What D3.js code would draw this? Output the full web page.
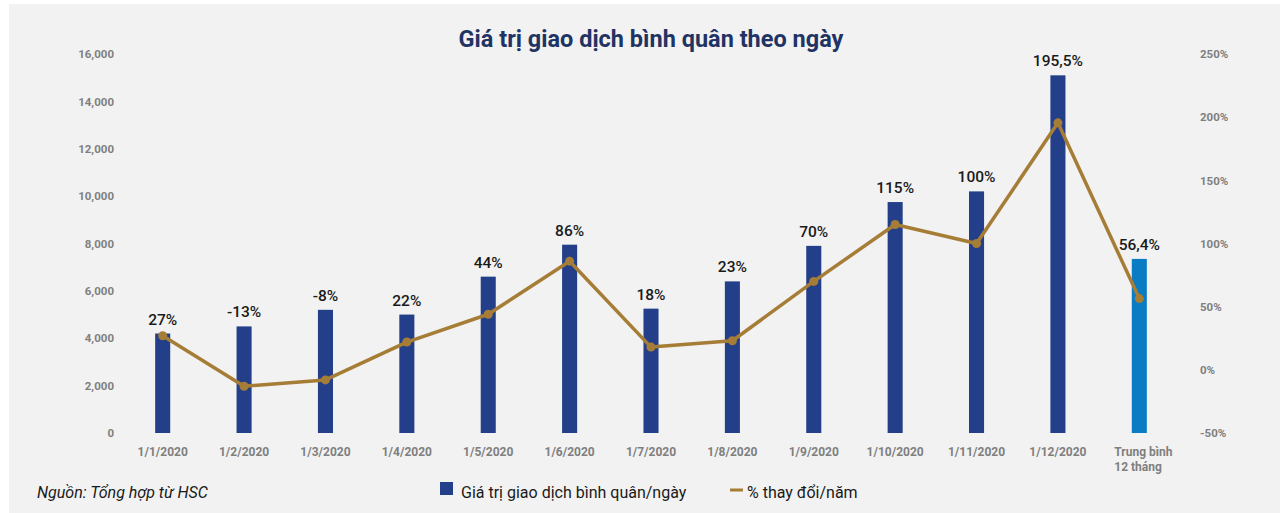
<!DOCTYPE html>
<html>
<head>
<meta charset="utf-8">
<script src="https://cdn.jsdelivr.net/npm/d3@7"></script>
<style>
  body { margin: 0; background: #ffffff; }
  text { font-family: Roboto, "Noto Sans", sans-serif; }
  .tick text { fill: #7f7f7f; font-weight: 700; font-size: 11.5px; }
</style>
</head>
<body>
<div id="chart"></div>
<script>
// ---------- Data ----------
const categories = ['1/1/2020', '1/2/2020', '1/3/2020', '1/4/2020', '1/5/2020', '1/6/2020',
    '1/7/2020', '1/8/2020', '1/9/2020', '1/10/2020', '1/11/2020', '1/12/2020', 'Trung bình\n12 tháng'];
const tradeValues = [4200, 4500, 5200, 5000, 6600, 7950, 5250, 6400, 7900, 9750, 10200, 15100, 7350];
const changePct = [27, -13, -8, 22, 44, 86, 18, 23, 70, 115, 100, 195.5, 56.4];
const changeLabels = ['27%', '-13%', '-8%', '22%', '44%', '86%', '18%', '23%', '70%', '115%', '100%', '195,5%', '56,4%'];
const leftTicks = [0, 2000, 4000, 6000, 8000, 10000, 12000, 14000, 16000];
const rightTicks = [-50, 0, 50, 100, 150, 200, 250];

// ---------- Layout ----------
const W = 1284, H = 513;
const plot = { left: 122, right: 1180, top: 54, bottom: 433 };

const svg = d3.select('#chart').append('svg')
    .attr('width', W)
    .attr('height', H);

// background panel
svg.append('rect')
    .attr('x', 9).attr('y', 4)
    .attr('width', 1271).attr('height', H - 4)
    .attr('fill', '#f2f2f2');

// Scales
const x = d3.scaleBand()
    .domain(categories)
    .range([plot.left, plot.right])
    .paddingInner(0.815)
    .paddingOuter(0.4075);

const yLeft = d3.scaleLinear().domain([0, 16000]).range([plot.bottom, plot.top]);
const yRight = d3.scaleLinear().domain([-50, 250]).range([plot.bottom, plot.top]);

const cx = c => x(c) + x.bandwidth() / 2;

// Title
svg.append('text')
    .attr('x', 651).attr('y', 47)
    .attr('text-anchor', 'middle')
    .attr('font-size', 23.5).attr('font-weight', 700)
    .attr('fill', '#1f3464')
    .text('Giá trị giao dịch bình quân theo ngày');

// Left axis
const leftAxis = svg.append('g')
    .attr('transform', `translate(${plot.left - 8}, 0)`)
    .call(d3.axisLeft(yLeft).tickValues(leftTicks).tickSize(0).tickPadding(0)
        .tickFormat(d3.format(',')));
leftAxis.select('.domain').remove();

// Right axis
const rightAxis = svg.append('g')
    .attr('transform', `translate(${plot.right + 20}, 0)`)
    .call(d3.axisRight(yRight).tickValues(rightTicks).tickSize(0).tickPadding(0)
        .tickFormat(d => d + '%'));
rightAxis.select('.domain').remove();

// X labels (the last one has two lines, left aligned)
const lastIdx = categories.length - 1;
svg.append('g').selectAll('text')
    .data(categories)
    .join('text')
        .attr('x', (d, i) => i === lastIdx ? cx(d) - 25 : cx(d))
        .attr('y', 456)
        .attr('text-anchor', (d, i) => i === lastIdx ? 'start' : 'middle')
        .attr('font-size', 12).attr('font-weight', 700)
        .attr('fill', '#7f7f7f')
    .each(function (d) {
        const t = d3.select(this);
        d.split('\n').forEach((part, j) => {
            t.append('tspan')
                .attr('x', t.attr('x'))
                .attr('dy', j === 0 ? 0 : 15)
                .text(part);
        });
    });

// Bars
svg.append('g').selectAll('rect')
    .data(categories)
    .join('rect')
        .attr('x', d => x(d))
        .attr('y', (d, i) => yLeft(tradeValues[i]))
        .attr('width', x.bandwidth())
        .attr('height', (d, i) => yLeft(0) - yLeft(tradeValues[i]))
        .attr('fill', (d, i) => i === lastIdx ? '#0a7cc4' : '#243f8a');

// Line
const line = d3.line()
    .x((d, i) => cx(categories[i]))
    .y(d => yRight(d));

svg.append('path')
    .datum(changePct)
    .attr('d', line)
    .attr('fill', 'none')
    .attr('stroke', '#a57d36')
    .attr('stroke-width', 3.5)
    .attr('stroke-linejoin', 'round');

svg.append('g').selectAll('circle')
    .data(changePct)
    .join('circle')
        .attr('cx', (d, i) => cx(categories[i]))
        .attr('cy', d => yRight(d))
        .attr('r', 4.5)
        .attr('fill', '#a57d36');

// Value labels above bars
svg.append('g').selectAll('text')
    .data(changeLabels)
    .join('text')
        .attr('x', (d, i) => cx(categories[i]))
        .attr('y', (d, i) => yLeft(tradeValues[i]) - 9)
        .attr('text-anchor', 'middle')
        .attr('font-size', 15.5).attr('font-weight', 500)
        .attr('fill', '#1a1a1a')
        .text(d => d);

// Source note
svg.append('text')
    .attr('x', 37).attr('y', 498)
    .attr('font-size', 16).attr('font-style', 'italic')
    .attr('fill', '#1a1a1a')
    .text('Nguồn: Tổng hợp từ HSC');

// Legend
const legend = svg.append('g');
legend.append('rect')
    .attr('x', 440).attr('y', 482).attr('width', 13).attr('height', 13)
    .attr('fill', '#243f8a');
legend.append('text')
    .attr('x', 461).attr('y', 498)
    .attr('font-size', 16).attr('fill', '#1a1a1a')
    .text('Giá trị giao dịch bình quân/ngày');
legend.append('line')
    .attr('x1', 730).attr('x2', 743).attr('y1', 490).attr('y2', 490)
    .attr('stroke', '#a57d36').attr('stroke-width', 3);
legend.append('text')
    .attr('x', 747).attr('y', 498)
    .attr('font-size', 16).attr('fill', '#1a1a1a')
    .text('% thay đổi/năm');
</script>
</body>
</html>
